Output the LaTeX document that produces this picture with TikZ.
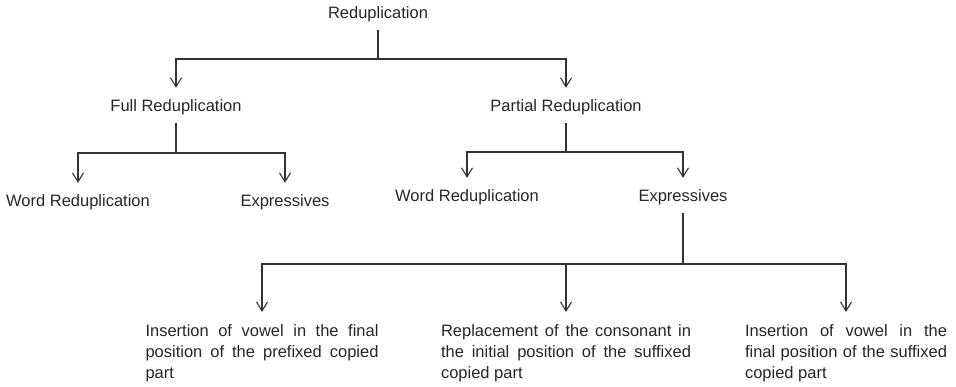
\documentclass[tikz,border=0pt]{standalone}
\usepackage{fontspec}
\setmainfont{Liberation Sans}
\usetikzlibrary{arrows.meta}
\begin{document}
\begin{tikzpicture}[x=1pt, y=-1pt,
    every node/.style={inner xsep=0pt, inner ysep=7pt, text=black!85,
      font=\fontsize{16.5}{21}\selectfont},
    leaf/.style={anchor=north, align=justify},
    link/.style={draw=black!80, line width=1.1pt},
    down/.style={link, -{Straight Barb[length=9pt, width=11pt]}, shorten >=5pt}]
    \useasboundingbox (0,0) rectangle (956,387);

    % Top level
    \node[anchor=base] (redup) at (378,19) {Reduplication};
    \node[anchor=base] (full) at (176,112) {Full Reduplication};
    \node[anchor=base] (partial) at (566,112) {Partial Reduplication};

    % Second level
    \node[anchor=base] (fullword) at (78,207) {Word Reduplication};
    \node[anchor=base] (fullexpr) at (285,207) {Expressives};
    \node[anchor=base] (partword) at (467,202) {Word Reduplication};
    \node[anchor=base] (partexpr) at (683,202) {Expressives};

    % Kinds of expressives
    \node[leaf, text width=233pt] (prefins) at (262,317)
      {Insertion of vowel in the final\linebreak position of the prefixed copied\linebreak part};
    \node[leaf, text width=250pt] (sufrepl) at (566,317)
      {Replacement of the consonant in\linebreak the initial position of the suffixed\linebreak copied part};
    \node[leaf, text width=202pt] (sufins) at (846,317)
      {Insertion of vowel in the\linebreak final position of the suffixed\linebreak copied part};

    % Junctions
    \coordinate (j1) at (378,59);
    \coordinate (j2) at (176,153);
    \coordinate (j3) at (566,152);
    \coordinate (j4) at (683,264);

    % Branches
    \draw[link] (redup.south) -- (j1);
    \draw[down] (j1) -| (full.north);
    \draw[down] (j1) -| (partial.north);

    \draw[link] (full.south) -- (j2);
    \draw[down] (j2) -| (fullword.north);
    \draw[down] (j2) -| (fullexpr.north);

    \draw[link] (partial.south) -- (j3);
    \draw[down] (j3) -| (partword.north);
    \draw[down] (j3) -| (partexpr.north);

    \draw[link] (partexpr.south) -- (j4);
    \draw[down] (j4) -| (prefins.north);
    \draw[down] (j4) -| (sufrepl.north);
    \draw[down] (j4) -| (sufins.north);
\end{tikzpicture}
\end{document}
